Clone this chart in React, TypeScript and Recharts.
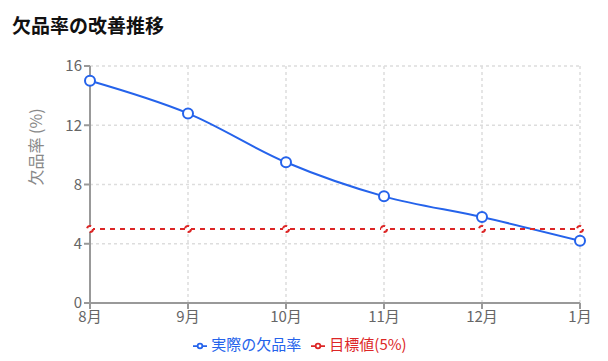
import * as React from "react";
import {
  LineChart,
  Line,
  XAxis,
  YAxis,
  CartesianGrid,
  Legend,
} from "recharts";

const months = ["8月", "9月", "10月", "11月", "12月", "1月"];
const actualRate = [15.0, 12.8, 9.5, 7.2, 5.8, 4.2];
const targetRate = [5, 5, 5, 5, 5, 5];
const yTicks = [0, 4, 8, 12, 16];

const data = months.map((m, i) => ({
  month: m,
  actual: actualRate[i],
  target: targetRate[i],
}));

const font = '"Noto Sans CJK JP", "Noto Sans", sans-serif';

// y軸ラベル（少し上寄せ）
const YLabel = () => {
  const x = 27;
  const y = 147;
  return (
    <text
      x={x}
      y={y - 48}
      transform={`rotate(-90, ${x}, ${y - 48})`}
      textAnchor="middle"
      dominantBaseline="central"
      fill="#888"
      fontSize={16}
    >
      欠品率 (%)
    </text>
  );
};

export default function App() {
  return (
    <div style={{ width: 592, fontFamily: font }}>
      <div
        style={{
          height: 40,
          lineHeight: "34px",
          paddingLeft: 4,
          fontSize: 19,
          fontWeight: 700,
          color: "#111",
        }}
      >
        欠品率の改善推移
      </div>
      <LineChart
        width={592}
        height={313}
        data={data}
        margin={{ top: 18, right: 20, left: 22, bottom: 2 }}
      >
        <CartesianGrid stroke="#ddd" strokeDasharray="3 3" strokeWidth={1.5} />
        <XAxis
          dataKey="month"
          stroke="#999"
          strokeWidth={2}
          tick={{ fill: "#666", fontSize: 15 }}
          tickLine={{ stroke: "#999" }}
        />
        <YAxis
          domain={[0, 16]}
          ticks={yTicks}
          width={60}
          stroke="#999"
          strokeWidth={2}
          tick={{ fill: "#666", fontSize: 15 }}
          label={<YLabel />}
        />
        <Legend
          verticalAlign="bottom"
          height={26}
          wrapperStyle={{ fontSize: 15 }}
          iconSize={14}
        />
        <Line
          type="monotone"
          dataKey="actual"
          name="実際の欠品率"
          stroke="#2563eb"
          strokeWidth={2}
          dot={{ r: 5, fill: "#fff", stroke: "#2563eb", strokeWidth: 2 }}
          isAnimationActive={false}
        />
        <Line
          type="monotone"
          dataKey="target"
          name="目標値(5%)"
          stroke="#dc2626"
          strokeWidth={2}
          strokeDasharray="5 5"
          dot={{ r: 3, fill: "#fff", stroke: "#dc2626", strokeWidth: 2 }}
          isAnimationActive={false}
        />
      </LineChart>
    </div>
  );
}
